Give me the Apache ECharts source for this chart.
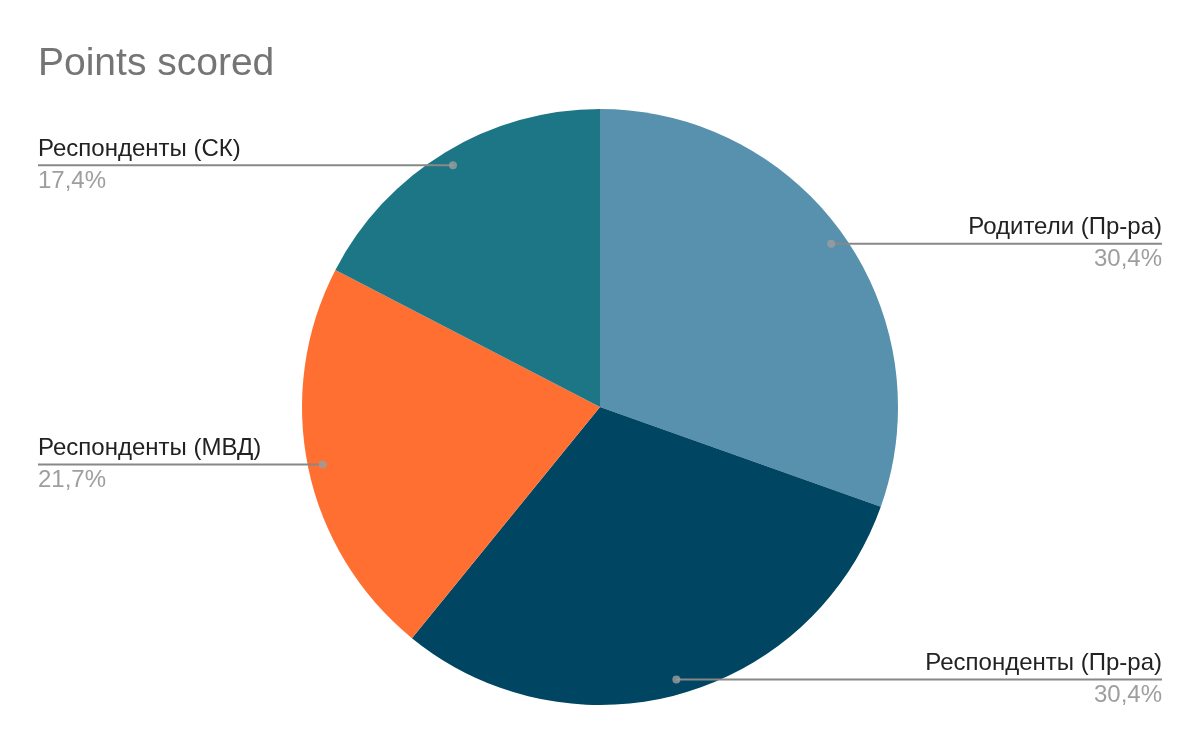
<!DOCTYPE html>
<html>
<head>
<meta charset="utf-8">
<script src="https://cdn.jsdelivr.net/npm/echarts@6/dist/echarts.min.js"></script>
<style>html,body{margin:0;padding:0;background:#fff}#c{width:1200px;height:742px}</style>
</head>
<body>
<div id="c"></div>
<script>
const categories = ['Родители (Пр-ра)', 'Респонденты (Пр-ра)', 'Респонденты (МВД)', 'Респонденты (СК)'];
const values = [7, 7, 5, 4];
const colors = ['#5891ad', '#004561', '#ff6f31', '#1c7685'];
const titleText = 'Points scored';

const total = values.reduce((a, b) => a + b, 0);
const pieData = categories.map((n, i) => ({ name: n, value: values[i], itemStyle: { color: colors[i] } }));
let cum = 0;
const dotData = values.map(v => { const a = cum + v / 2; cum += v; return [1, a]; });

const chart = echarts.init(document.getElementById('c'));
const FONT = 'Arial';
chart.setOption({
  animation: false,
  title: {
    text: titleText, left: 33, top: 40,
    textStyle: { fontFamily: FONT, fontSize: 39, fontWeight: 'normal', color: '#757575' }
  },
  polar: { center: [600, 407], radius: 283 },
  angleAxis: { type: 'value', min: 0, max: total, startAngle: 90, clockwise: true, show: false },
  radiusAxis: { type: 'value', min: 0, max: 1, show: false },
  series: [
    {
      type: 'pie', center: [600, 407], radius: 298, startAngle: 90, clockwise: true,
      data: pieData, label: { show: false }, labelLine: { show: false }, silent: true, z: 1
    },
    {
      type: 'pie', center: [600, 407], radius: 283, startAngle: 90, clockwise: true,
      data: pieData.map(d => ({ name: d.name, value: d.value, itemStyle: { color: 'rgba(0,0,0,0)' } })),
      silent: true, z: 3,
      label: {
        show: true, alignTo: 'edge', edgeDistance: 38, minMargin: 5,
        formatter: p => '{n|' + p.name + '}\n{p|' + (p.value / total * 100).toFixed(1).replace('.', ',') + '%}',
        rich: {
          n: { fontFamily: FONT, fontSize: 24, color: '#222222', lineHeight: 32 },
          p: { fontFamily: FONT, fontSize: 24, color: '#9e9e9e', lineHeight: 32 }
        }
      },
      labelLine: { show: true, length: 0, length2: 10, lineStyle: { color: '#888888', width: 2 } },
      labelLayout: function (params) {
        const isLeft = params.labelRect.x < 600;
        const points = params.labelLinePoints;
        points[2][0] = isLeft ? params.labelRect.x : params.labelRect.x + params.labelRect.width;
        return { labelLinePoints: points };
      }
    },
    {
      type: 'scatter', coordinateSystem: 'polar', data: dotData, symbol: 'circle', symbolSize: 8,
      itemStyle: { color: '#9e9e9e' }, silent: true, z: 4
    }
  ]
});
</script>
</body>
</html>
